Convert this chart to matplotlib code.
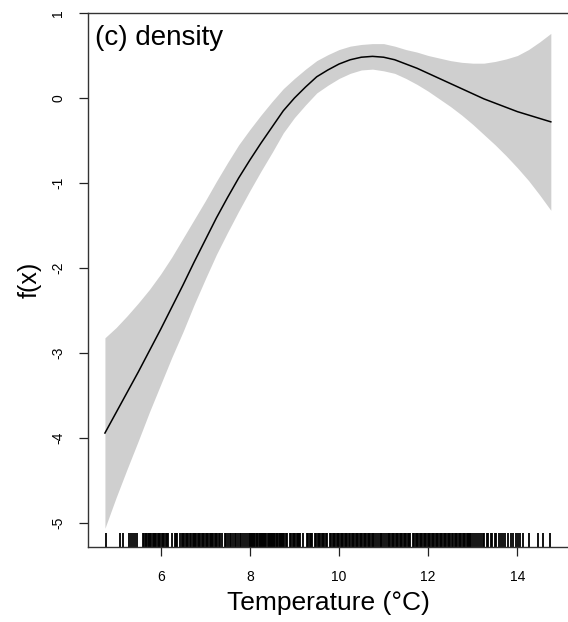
import matplotlib
matplotlib.use("Agg")
import matplotlib.pyplot as plt
import matplotlib.transforms as mtransforms

plt.rcParams["font.family"] = ["Liberation Sans", "DejaVu Sans"]

# smooth term f(temperature): fitted values and confidence band
temp = [4.75, 5.0, 5.25, 5.5, 5.75, 6.0, 6.25, 6.5, 6.75, 7.0, 7.25, 7.5, 7.75, 8.0,
        8.25, 8.5, 8.75, 9.0, 9.25, 9.5, 9.75, 10.0, 10.25, 10.5, 10.75, 11.0, 11.25,
        11.5, 11.75, 12.0, 12.25, 12.5, 12.75, 13.0, 13.25, 13.5, 13.75, 14.0, 14.25,
        14.5, 14.75]
fit = [-3.94, -3.70, -3.46, -3.22, -2.97, -2.72, -2.46, -2.20, -1.93, -1.67, -1.41,
       -1.17, -0.94, -0.73, -0.53, -0.34, -0.15, 0.00, 0.13, 0.25, 0.33, 0.40, 0.45,
       0.48, 0.49, 0.48, 0.45, 0.40, 0.35, 0.29, 0.23, 0.17, 0.11, 0.05, -0.01, -0.06,
       -0.11, -0.16, -0.20, -0.24, -0.28]
upper = [-2.82, -2.70, -2.56, -2.41, -2.25, -2.07, -1.87, -1.65, -1.43, -1.21, -0.98,
         -0.76, -0.55, -0.37, -0.20, -0.04, 0.11, 0.23, 0.34, 0.44, 0.51, 0.57, 0.61,
         0.63, 0.64, 0.64, 0.61, 0.57, 0.54, 0.50, 0.47, 0.44, 0.42, 0.41, 0.41, 0.43,
         0.46, 0.50, 0.57, 0.66, 0.76]
lower = [-5.06, -4.70, -4.36, -4.03, -3.69, -3.37, -3.05, -2.75, -2.43, -2.13, -1.84,
         -1.58, -1.33, -1.09, -0.86, -0.64, -0.41, -0.23, -0.08, 0.06, 0.15, 0.23, 0.29,
         0.33, 0.34, 0.32, 0.29, 0.23, 0.16, 0.08, -0.01, -0.10, -0.20, -0.31, -0.43,
         -0.55, -0.68, -0.82, -0.97, -1.14, -1.32]

# observed temperatures (rug)
rug = [4.77, 5.09, 5.16, 5.28, 5.33, 5.37, 5.43, 5.46,
       5.61, 5.63, 5.66, 5.68, 5.71, 5.74, 5.76, 5.79, 5.82, 5.85, 5.88, 5.90, 5.93, 5.96, 5.99,
       6.02, 6.05, 6.08, 6.11, 6.14, 6.17, 6.25, 6.32, 6.35, 6.37,
       6.44, 6.47, 6.50, 6.53, 6.57, 6.60, 6.62, 6.66, 6.69, 6.72, 6.75, 6.78, 6.80, 6.83, 6.86,
       6.89, 6.92, 6.95, 6.98, 7.01, 7.04, 7.07, 7.10, 7.12, 7.15, 7.18, 7.21, 7.24, 7.27, 7.30,
       7.33, 7.37, 7.44, 7.47, 7.51, 7.55, 7.58, 7.62, 7.66, 7.70, 7.73, 7.77, 7.81, 7.85, 7.89, 7.93,
       7.97, 8.00, 8.02, 8.05, 8.07, 8.10, 8.12, 8.15, 8.17, 8.20, 8.22, 8.25, 8.27, 8.30, 8.32,
       8.35, 8.37, 8.40, 8.42, 8.45, 8.47, 8.50, 8.52, 8.55, 8.57, 8.60, 8.62, 8.65, 8.67, 8.70,
       8.72, 8.75, 8.77, 8.80, 8.83, 8.90, 8.93, 8.96, 8.99, 9.02, 9.05, 9.08, 9.11, 9.13, 9.20,
       9.28, 9.31, 9.34, 9.37, 9.40, 9.46, 9.49, 9.52, 9.55, 9.58, 9.61, 9.64, 9.67, 9.70, 9.72,
       9.80, 9.83, 9.86, 9.89, 9.92, 9.95, 9.98, 10.01, 10.04, 10.07, 10.10, 10.13, 10.16, 10.19,
       10.22, 10.25, 10.28, 10.31, 10.34, 10.37, 10.40, 10.43, 10.46, 10.49, 10.52, 10.55, 10.58,
       10.61, 10.64, 10.67, 10.70, 10.73, 10.76, 10.79, 10.82, 10.88, 10.91, 10.94, 10.97, 11.00,
       11.06, 11.09, 11.12, 11.15, 11.18, 11.21, 11.24, 11.27, 11.30, 11.33, 11.36, 11.39, 11.42,
       11.45, 11.48, 11.51, 11.54, 11.57, 11.59,
       11.66, 11.69, 11.72, 11.75, 11.78, 11.81, 11.84, 11.87, 11.90, 11.93, 11.96, 11.99, 12.02,
       12.05, 12.08, 12.11, 12.14, 12.17, 12.20, 12.23, 12.26, 12.29, 12.32, 12.35, 12.38, 12.41,
       12.44, 12.47, 12.50, 12.53, 12.56, 12.59, 12.62, 12.65, 12.68, 12.71, 12.74, 12.77, 12.80,
       12.83, 12.86, 12.89, 12.92, 12.94,
       12.97, 13.01, 13.05, 13.09, 13.13, 13.18, 13.22, 13.26, 13.31, 13.35, 13.40, 13.44, 13.49,
       13.53, 13.58, 13.63, 13.68, 13.73, 13.79, 13.85, 13.91, 13.97, 14.02, 14.06,
       14.13, 14.27, 14.47, 14.58, 14.73]

xticks = [6, 8, 10, 12, 14]
yticks = [-5, -4, -3, -2, -1, 0, 1]

fig = plt.figure(figsize=(5.68, 6.22), dpi=100)
ax = fig.add_axes([0.1549, 0.1206, 0.8486, 0.8585])

ax.fill_between(temp, lower, upper, color="#cfcfcf", linewidth=0)
ax.plot(temp, fit, color="black", lw=1.1)

trans = mtransforms.blended_transform_factory(ax.transData, ax.transAxes)
ax.vlines(rug, 0, 0.027, transform=trans, color="black", lw=1.3)

ax.set_xlim(4.37, 15.18)
ax.set_ylim(-5.28, 1.0)
ax.set_xticks(xticks)
ax.set_yticks(yticks)
ax.set_yticklabels([str(v) for v in yticks], rotation=90, va="center")
ax.tick_params(length=6.5, width=0.9, labelsize=10, pad=10, color="#222222")

for side in ["left", "bottom", "top", "right"]:
    ax.spines[side].set_linewidth(1.0)
    ax.spines[side].set_color("#333333")

ax.set_xlabel("Temperature (°C)", fontsize=19)
ax.xaxis.set_label_coords(0.498, -0.083)
ax.set_ylabel("f(x)", fontsize=18)
ax.yaxis.set_label_coords(-0.096, 0.5)

ax.text(0.015, 0.978, "(c) density", transform=ax.transAxes, fontsize=20,
        ha="left", va="top")

fig.savefig("out.png", dpi=100)
